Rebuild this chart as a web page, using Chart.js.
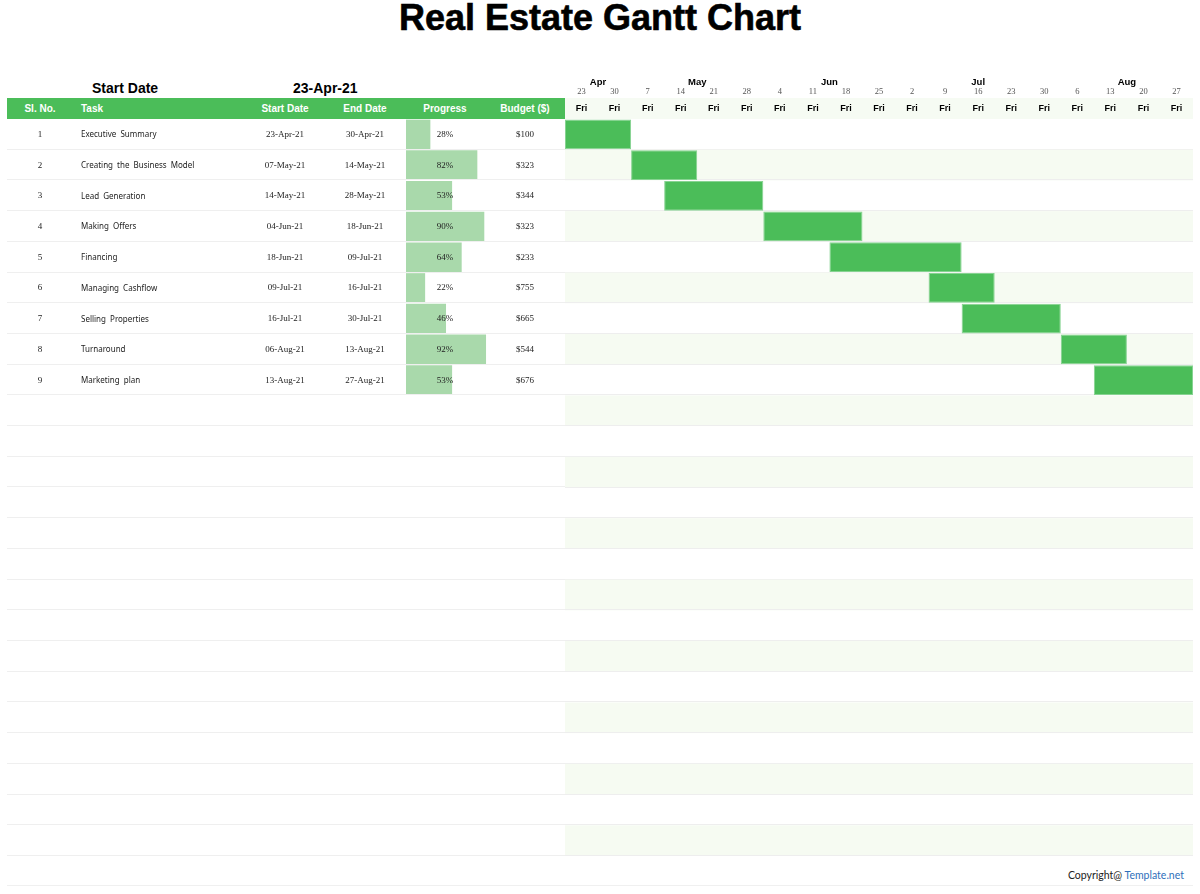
<!DOCTYPE html>
<html>
<head>
<meta charset="utf-8">
<script src="https://cdn.jsdelivr.net/npm/chart.js@4"></script>
<style>
  body { margin: 0; background: #fff; }
  #page { position: relative; width: 1200px; height: 894px; overflow: hidden; font-family: "Liberation Sans", Arial, sans-serif; }
  #title { position: absolute; left: 0; top: 0; width: 1200px; text-align: center; font-size: 36px; line-height: 36px; font-weight: bold; color: #000; -webkit-text-stroke: 0.6px #000; }
  .lbl { position: absolute; top: 80px; font-size: 14px; line-height: 16px; font-weight: bold; color: #000; }
  #head { position: absolute; left: 7px; top: 98px; width: 558px; height: 21px; background: #4bbd59; }
  #head div { position: absolute; top: 0; height: 21px; line-height: 21px; color: #fff; font-weight: bold; font-size: 10px; }
  #rows { position: absolute; left: 7px; top: 119px; width: 558px; z-index: 2; }
  .row { position: absolute; left: 0; width: 558px; border-bottom: 1px solid #efefef; box-sizing: border-box; }
  .row div { position: absolute; top: 0; height: 100%; display: flex; align-items: center; font-family: "Liberation Serif", "Times New Roman", serif; font-size: 9px; color: #222; }
  .row div.c { justify-content: center; }
  .row div.task { font-family: "Noto Sans", sans-serif; font-size: 8px; word-spacing: 2px; }
  #progress { position: absolute; left: 406px; top: 119px; z-index: 1; }
  #gantt { position: absolute; left: 565px; top: 70px; }
  #copy { position: absolute; right: 16px; top: 869px; font-family: Lato, "Open Sans", sans-serif; font-size: 10.5px; color: #222; }
  #copy span { color: #2e6fba; }
  #footLine { position: absolute; left: 7px; top: 885px; width: 1186px; height: 1px; background: #f0f0f0; }
</style>
</head>
<body>
<div id="page">
  <div id="title">Real Estate Gantt Chart</div>
  <div class="lbl" style="left:92px">Start Date</div>
  <div class="lbl" id="startValue" style="left:293px"></div>
  <div id="head">
    <div style="left:0;width:66px;text-align:center">Sl. No.</div>
    <div style="left:74px">Task</div>
    <div style="left:243px;width:70px;text-align:center">Start Date</div>
    <div style="left:323px;width:70px;text-align:center">End Date</div>
    <div style="left:403px;width:70px;text-align:center">Progress</div>
    <div style="left:483px;width:70px;text-align:center">Budget ($)</div>
  </div>
  <div id="rows"></div>
  <canvas id="progress" width="87" height="737"></canvas>
  <canvas id="gantt" width="628" height="786"></canvas>
  <div id="footLine"></div>
  <div id="copy">Copyright@ <span>Template.net</span></div>
</div>

<script>
// 데이터 ####################################################
const projectStart = "23-Apr-21";

const tasks = [
  "Executive Summary",
  "Creating the Business Model",
  "Lead Generation",
  "Making Offers",
  "Financing",
  "Managing Cashflow",
  "Selling Properties",
  "Turnaround",
  "Marketing plan",
];
const startDates = ["23-Apr-21", "07-May-21", "14-May-21", "04-Jun-21", "18-Jun-21", "09-Jul-21", "16-Jul-21", "06-Aug-21", "13-Aug-21"];
const endDates = ["30-Apr-21", "14-May-21", "28-May-21", "18-Jun-21", "09-Jul-21", "16-Jul-21", "30-Jul-21", "13-Aug-21", "27-Aug-21"];
const progress = [28, 82, 53, 90, 64, 22, 46, 92, 53];
const budgets = [100, 323, 344, 323, 233, 755, 665, 544, 676];

// 타임라인 눈금
const weekDays = ["23", "30", "7", "14", "21", "28", "4", "11", "18", "25", "2", "9", "16", "23", "30", "6", "13", "20", "27"];
const monthNames = ["Apr", "May", "Jun", "Jul", "Aug"];
const monthWeeks = [2, 4, 4, 5, 4];

const rowCount = 24; // 빈 줄 포함 전체 행 수

// 날짜 -> 시작일로부터 일수
const monthIdx = { Jan: 0, Feb: 1, Mar: 2, Apr: 3, May: 4, Jun: 5, Jul: 6, Aug: 7, Sep: 8, Oct: 9, Nov: 10, Dec: 11 };
function toUTC(str) {
  const [d, m, y] = str.split("-");
  return Date.UTC(2000 + Number(y), monthIdx[m], Number(d));
}
function dayOffset(str) {
  return (toUTC(str) - toUTC(projectStart)) / 86400000;
}

// 표 (HTML) ####################################################
function buildTable() {
  document.getElementById("startValue").textContent = projectStart;
  const rowsEl = document.getElementById("rows");
  const rowH = 737 / rowCount;
  for (let i = 0; i < rowCount; i++) {
    const row = document.createElement("div");
    row.className = "row";
    row.style.top = i * rowH + "px";
    row.style.height = rowH + "px";
    if (i < tasks.length) {
      row.innerHTML =
        `<div class="c" style="left:0;width:66px">${i + 1}</div>` +
        `<div class="task" style="left:74px;width:170px">${tasks[i]}</div>` +
        `<div class="c" style="left:243px;width:70px">${startDates[i]}</div>` +
        `<div class="c" style="left:323px;width:70px">${endDates[i]}</div>` +
        `<div class="c" style="left:403px;width:70px">${progress[i]}%</div>` +
        `<div class="c" style="left:483px;width:70px">$${budgets[i]}</div>`;
    }
    rowsEl.appendChild(row);
  }
}
buildTable();

const rowLabels = [];
for (let i = 0; i < rowCount; i++) rowLabels.push(tasks[i] || "");

// 진행률 막대 ####################################################
function progress_chart() {
  const ctx = document.getElementById("progress").getContext("2d");
  new Chart(ctx, {
    type: "bar",
    data: {
      labels: rowLabels,
      datasets: [
        {
          data: progress,
          backgroundColor: "#a9d9ab",
          barPercentage: 1,
          categoryPercentage: 0.96,
        },
      ],
    },
    options: {
      indexAxis: "y",
      responsive: false,
      animation: false,
      layout: { padding: 0 },
      scales: {
        x: { display: false, min: 0, max: 100 },
        y: { display: false },
      },
      plugins: { legend: { display: false }, tooltip: { enabled: false } },
    },
  });
}
progress_chart();

// 간트 차트 ####################################################
// 줄무늬 배경 + 구분선
const rowStripes = {
  id: "rowStripes",
  beforeDraw(chart) {
    const { ctx, chartArea, scales } = chart;
    const y = scales.y;
    const band = y.getPixelForValue(1) - y.getPixelForValue(0);
    const w = chartArea.right - chartArea.left;
    ctx.save();
    ctx.fillStyle = "#f6fbf3";
    ctx.fillRect(chartArea.left, scales.x.top, w, scales.x.bottom - scales.x.top);
    for (let i = 0; i < chart.data.labels.length; i++) {
      const top = y.getPixelForValue(i) - band / 2;
      if (i % 2 === 1) {
        ctx.fillStyle = "#f6fbf2";
        ctx.fillRect(chartArea.left, top, w, band);
      }
      ctx.fillStyle = "#eeeeee";
      ctx.fillRect(chartArea.left, Math.round(top + band) - 1, w, 1);
    }
    ctx.restore();
  },
};

function gantt_chart() {
  const ctx = document.getElementById("gantt").getContext("2d");
  const totalDays = weekDays.length * 7;

  // 월 라벨 위치: 해당 월 주(week) 구간의 가운데
  const monthCenters = [];
  let acc = 0;
  monthWeeks.forEach((n) => {
    monthCenters.push((acc + n / 2) * 7);
    acc += n;
  });

  const topAxis = (weight, height, padding, font, color, values, labels) => ({
    type: "linear",
    axis: "x",
    position: "top",
    weight: weight,
    min: 0,
    max: totalDays,
    grid: { display: false, drawTicks: false },
    border: { display: false },
    afterBuildTicks(scale) {
      scale.ticks = values.map((v) => ({ value: v }));
    },
    afterFit(scale) {
      scale.height = height;
    },
    ticks: {
      autoSkip: false,
      maxRotation: 0,
      minRotation: 0,
      padding: padding,
      font: font,
      color: color,
      callback: (value, index) => labels[index],
    },
  });

  const weekCenters = weekDays.map((d, i) => i * 7 + 3.5);

  new Chart(ctx, {
    type: "bar",
    data: {
      labels: rowLabels,
      datasets: [
        {
          data: tasks.map((t, i) => [dayOffset(startDates[i]), dayOffset(endDates[i]) + 7]),
          backgroundColor: "#4bbd59",
          borderColor: "#86d391",
          borderWidth: 1,
          borderSkipped: false,
          barPercentage: 1,
          categoryPercentage: 0.97,
        },
      ],
    },
    options: {
      indexAxis: "y",
      responsive: false,
      animation: false,
      layout: { padding: 0 },
      scales: {
        x: topAxis(0, 21, 5.5, { family: "Liberation Sans", size: 9, weight: "bold", lineHeight: 1 }, "#000", weekCenters, weekDays.map(() => "Fri")),
        xDay: topAxis(1, 11, 1.75, { family: "Liberation Serif", size: 8.5, lineHeight: 1 }, "#555", weekCenters, weekDays),
        xMon: topAxis(2, 17, 0, { family: "Liberation Sans", size: 9.5, weight: "bold", lineHeight: 1 }, "#000", monthCenters, monthNames),
        y: { display: false },
      },
      plugins: { legend: { display: false }, tooltip: { enabled: false } },
    },
    plugins: [rowStripes],
  });
}
gantt_chart();
</script>
</body>
</html>
